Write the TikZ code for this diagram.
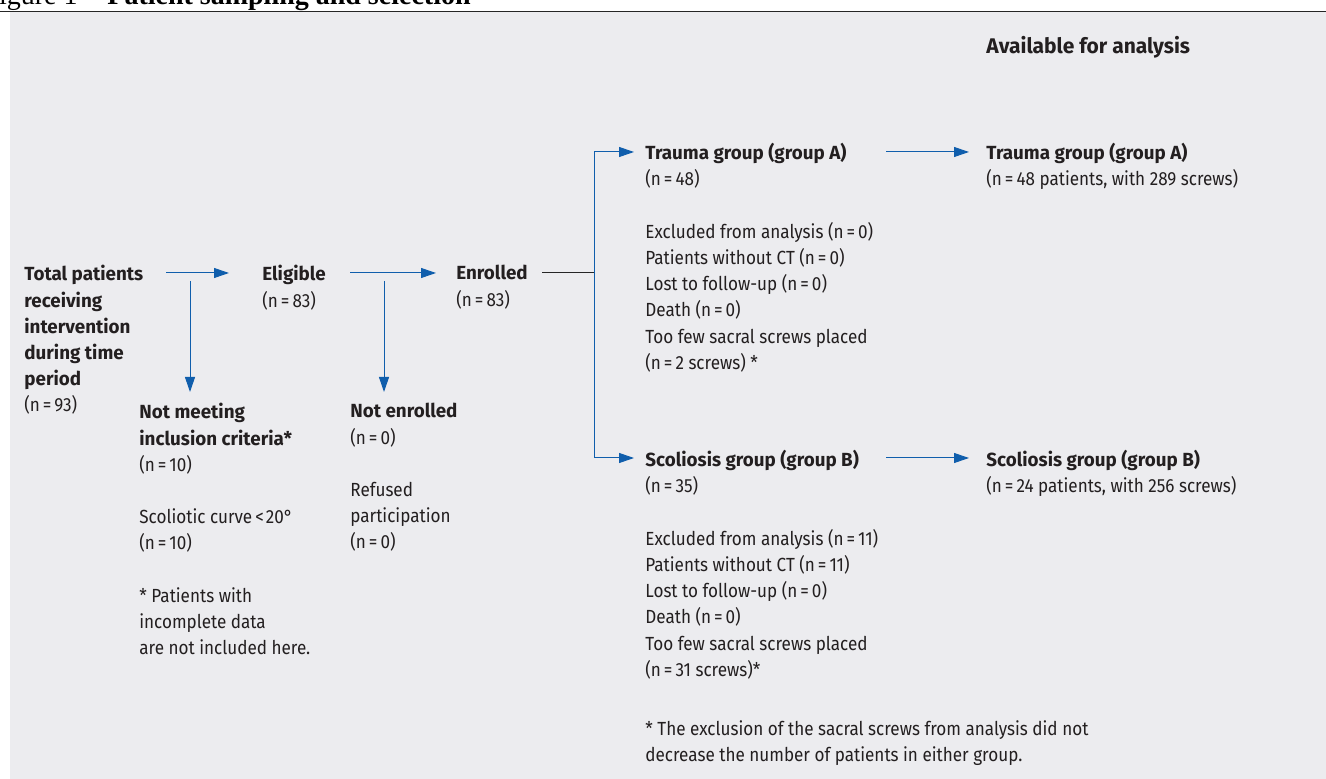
\documentclass[tikz,border=0pt]{standalone}
\usepackage{fontspec}
\setmainfont{Fira Sans}[FakeStretch=0.9, BoldFeatures={FakeStretch=0.99}]
\newfontfamily\capfont{Liberation Serif}
\usetikzlibrary{arrows.meta}
\definecolor{flowblue}{RGB}{16,94,172}
\definecolor{panelgray}{RGB}{236,236,239}
\definecolor{inkgray}{RGB}{35,31,32}
\newcommand\eqs{\kern1.5pt=\kern1.5pt}

\tikzset{
  txt/.style={anchor=north west, inner sep=0pt, align=left, text=inkgray,
    font=\fontsize{9.5}{13.1}\selectfont, execute at begin node={\rule{0pt}{9pt}}},
  flow/.style={draw=flowblue, line width=0.5pt, -{Triangle[length=7.5pt,width=5pt]}},
  joint/.style={draw=flowblue, line width=0.5pt},
}

\begin{document}
\begin{tikzpicture}[x=0.5pt, y=-0.5pt]
    \clip (0,0) rectangle (1326,779);
    % panel and rule
    \fill[panelgray] (10,12) rectangle (1326,779);
    \draw[black!85, line width=0.5pt] (0,11.5) -- (1326,11.5);
    \node[anchor=base east, inner sep=0pt, font=\capfont\fontsize{14}{16}\selectfont] (figlabel) at (78,5) {Figure 1};
    \node[anchor=base west, inner sep=0pt, font=\capfont\bfseries\fontsize{14}{16}\selectfont] (figtitle) at (107,5) {Patient sampling and selection};
    % anchor points
    \coordinate (PT) at (24,265);
    \coordinate (PE) at (262,265);
    \coordinate (PN) at (456,265);
    \coordinate (PM) at (139,403);
    \coordinate (PR) at (350,403);
    \coordinate (PA) at (645,143);
    \coordinate (PB) at (645,450);
    \coordinate (QA) at (986,143);
    \coordinate (QB) at (986,450);
    % arrow ends
    \coordinate (A1s) at (166,273);
    \coordinate (A1e) at (229,273);
    \coordinate (D1s) at (190,281);
    \coordinate (D1e) at (190,392);
    \coordinate (A2s) at (350,273);
    \coordinate (A2e) at (436,273);
    \coordinate (D2s) at (384,281);
    \coordinate (D2e) at (384,392);
    \coordinate (Ls) at (542,273);
    \coordinate (Lk) at (594,273);
    \coordinate (KA) at (594,152);
    \coordinate (KB) at (594,458);
    \coordinate (TA) at (634,152);
    \coordinate (TB) at (634,458);
    \coordinate (RAs) at (886,152);
    \coordinate (RAe) at (969,152);
    \coordinate (RBs) at (886,458);
    \coordinate (RBe) at (969,458);
    % texts
    \node[txt, font=\bfseries\fontsize{10.6}{13}\selectfont] (avail) at (986,35) {Available for analysis};
    \node[txt] (total) at (PT) {\textbf{Total patients}\\\textbf{receiving}\\\textbf{intervention}\\\textbf{during time}\\\textbf{period}\\(n\eqs 93)};
    \node[txt] (eligible) at (PE) {\textbf{Eligible}\\(n\eqs 83)};
    \node[txt] (enrolled) at (PN) {\textbf{Enrolled}\\(n\eqs 83)};
    \node[txt] (notmeet) at (PM) {\textbf{Not meeting}\\\textbf{inclusion criteria*}\\(n\eqs 10)\\[13.1pt]Scoliotic curve\kern1.5pt<\kern1pt20°\\(n\eqs 10)\\[13.1pt]* Patients with\\incomplete data\\are not included here.};
    \node[txt] (notenr) at (PR) {\textbf{Not enrolled}\\(n\eqs 0)\\[13.1pt]Refused\\participation\\(n\eqs 0)};
    \node[txt] (trauma) at (PA) {\textbf{Trauma group (group A)}\\(n\eqs 48)\\[13.1pt]Excluded from analysis (n\eqs 0)\\Patients without CT (n\eqs 0)\\Lost to follow-up (n\eqs 0)\\Death (n\eqs 0)\\Too few sacral screws placed\\(n\eqs 2 screws) *};
    \node[txt] (scol) at (PB) {\textbf{Scoliosis group (group B)}\\(n\eqs 35)\\[13.1pt]Excluded from analysis (n\eqs 11)\\Patients without CT (n\eqs 11)\\Lost to follow-up (n\eqs 0)\\Death (n\eqs 0)\\Too few sacral screws placed\\(n\eqs 31 screws)*};
    \node[txt] (note) at (645,720) {* The exclusion of the sacral screws from analysis did not\\decrease the number of patients in either group.};
    \node[txt] (traumaA) at (QA) {\textbf{Trauma group (group A)}\\(n\eqs 48 patients, with 289 screws)};
    \node[txt] (scolB) at (QB) {\textbf{Scoliosis group (group B)}\\(n\eqs 24 patients, with 256 screws)};
    % connectors
    \draw[flow] (A1s) -- (A1e);
    \draw[flow] (D1s) -- (D1e);
    \draw[flow] (A2s) -- (A2e);
    \draw[flow] (D2s) -- (D2e);
    \draw[black!85, line width=0.5pt] (Ls) -- (Lk);
    \draw[joint] (KA) -- (KB);
    \draw[flow] (KA) -- (TA);
    \draw[flow] (KB) -- (TB);
    \draw[flow] (RAs) -- (RAe);
    \draw[flow] (RBs) -- (RBe);
\end{tikzpicture}
\end{document}
